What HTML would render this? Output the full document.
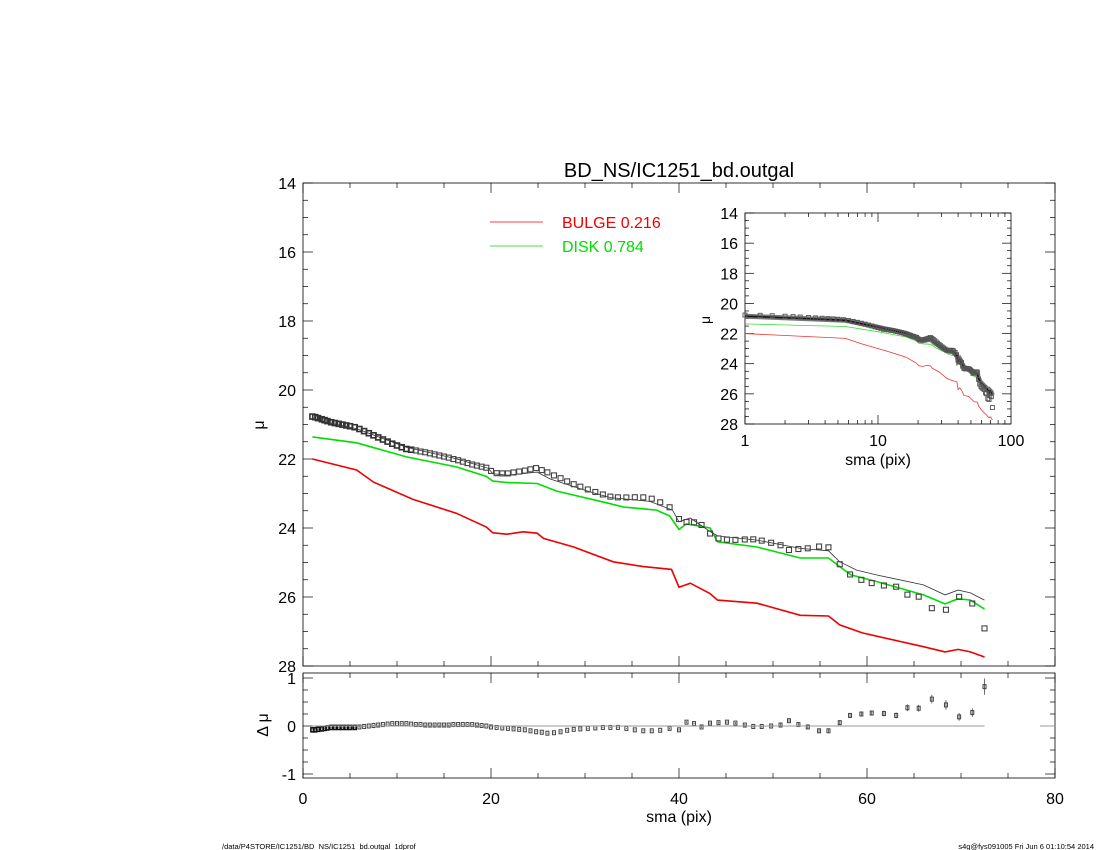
<!DOCTYPE html>
<html><head><meta charset="utf-8">
<style>
html,body{margin:0;padding:0;background:#fff;}
svg{display:block;font-family:"Liberation Sans",sans-serif;}
</style></head>
<body>
<svg id="chart" width="1100" height="850" viewBox="0 0 1100 850" xmlns="http://www.w3.org/2000/svg">
<rect width="1100" height="850" fill="#fff"/>
<text x="679" y="177" font-size="20" text-anchor="middle">BD_NS/IC1251_bd.outgal</text>
<g id="main"></g>
<g id="resid"></g>
<g id="inset"></g>
<g>
<line x1="490" y1="222" x2="543" y2="222" stroke="#f00" stroke-width="0.8"/>
<text x="562" y="228" font-size="16" fill="#e00">BULGE  0.216</text>
<line x1="490" y1="246" x2="543" y2="246" stroke="#0d0" stroke-width="0.8"/>
<text x="562" y="252" font-size="16" fill="#0d0">DISK  0.784</text>
</g>
<text x="222" y="849" font-size="7.5">/data/P4STORE/IC1251/BD_NS/IC1251_bd.outgal_1dprof</text>
<text x="1094" y="849" font-size="7.5" text-anchor="end">s4g@fys091005  Fri Jun  6 01:10:54 2014</text>
</svg>
<script>
// ---- data ----
const bulgeX = [1,5.7,7.5,11.7,16.3,19.5,20.2,21.7,23.4,24.9,25.6,28.8,33,36.2,39.2,40,41.2,43.3,44.1,48.3,52.9,55.9,57.1,59.5,66,68.3,69.7,71,72.5];
const bulgeMu = [22.0,22.32,22.67,23.17,23.57,23.97,24.14,24.18,24.11,24.15,24.3,24.55,24.98,25.12,25.2,25.72,25.6,25.9,26.09,26.18,26.53,26.55,26.81,27.04,27.44,27.59,27.52,27.59,27.74];
const diskX = [1,5.7,11,16.3,19.5,20.2,21.7,24.9,27,32.3,34.1,37.6,39,40,40.8,43.3,44.1,48.3,52.9,55.9,57.1,58.3,61,66,68.3,69.7,71,72.5];
const diskMu = [21.36,21.53,21.94,22.23,22.5,22.64,22.68,22.71,22.93,23.27,23.39,23.48,23.65,24.04,23.88,24.0,24.4,24.55,24.87,24.87,25.12,25.36,25.55,25.94,26.2,26.05,26.09,26.35];
const totalX = [1,5.7,11,16.3,19.7,20.2,21.7,24.9,26.3,30.5,32.7,36.9,39.3,40,41.2,43.3,44.1,48.3,52.9,55.9,57.1,58.9,61,66,68.3,69.7,71,72.5];
const totalMu = [20.85,21.12,21.66,21.99,22.27,22.43,22.47,22.38,22.58,22.95,23.12,23.23,23.48,23.82,23.71,24.1,24.23,24.35,24.59,24.66,24.98,25.22,25.36,25.65,25.94,25.8,25.88,26.09];
const pointX = [1,1.3,1.6,2,2.3,2.6,3,3.4,3.8,4.2,4.6,5,5.5,6,6.5,7,7.5,8,8.5,9,9.5,10,10.5,11,11.5,12,12.5,13,13.5,14,14.5,15,15.5,16,16.5,17,17.5,18,18.5,19,19.5,20,20.6,21.2,21.8,22.4,23,23.6,24.2,24.8,25.4,26,26.7,27.4,28.1,28.8,29.5,30.3,31.1,31.9,32.7,33.5,34.4,35.3,36.2,37.1,38,39,40,40.8,41.6,42.4,43.3,44.2,45.1,46,47,47.9,48.8,49.8,50.8,51.7,52.7,53.7,54.9,55.9,57.1,58.2,59.4,60.5,61.8,63.1,64.3,65.5,66.9,68.4,69.8,71.2,72.5];
const resid = [-0.08,-0.08,-0.07,-0.06,-0.05,-0.04,-0.03,-0.03,-0.03,-0.03,-0.03,-0.03,-0.03,-0.02,-0.01,0.0,0.01,0.02,0.03,0.04,0.05,0.05,0.05,0.05,0.04,0.03,0.03,0.02,0.02,0.02,0.02,0.02,0.02,0.03,0.03,0.03,0.03,0.03,0.02,0.01,0.0,-0.02,-0.03,-0.04,-0.05,-0.06,-0.07,-0.08,-0.1,-0.12,-0.13,-0.15,-0.14,-0.12,-0.09,-0.07,-0.06,-0.05,-0.04,-0.03,-0.03,-0.03,-0.05,-0.08,-0.1,-0.1,-0.09,-0.05,-0.08,0.08,0.05,-0.02,0.06,0.07,0.08,0.06,0.02,-0.01,-0.01,0.0,0.02,0.11,0.03,-0.02,-0.1,-0.1,0.07,0.22,0.25,0.27,0.26,0.22,0.38,0.37,0.56,0.44,0.19,0.28,0.82];
const residErr = [0.01,0.01,0.01,0.01,0.01,0.01,0.01,0.01,0.01,0.01,0.01,0.01,0.01,0.01,0.01,0.01,0.01,0.01,0.01,0.01,0.01,0.01,0.01,0.01,0.01,0.01,0.01,0.01,0.01,0.01,0.01,0.01,0.01,0.01,0.01,0.01,0.01,0.01,0.01,0.01,0.01,0.01,0.01,0.01,0.01,0.01,0.01,0.01,0.01,0.01,0.01,0.01,0.01,0.01,0.01,0.01,0.01,0.01,0.01,0.01,0.01,0.01,0.01,0.01,0.01,0.01,0.01,0.02,0.02,0.02,0.02,0.02,0.02,0.02,0.02,0.02,0.02,0.02,0.02,0.02,0.03,0.03,0.03,0.03,0.03,0.03,0.04,0.05,0.05,0.05,0.06,0.06,0.07,0.07,0.09,0.1,0.08,0.09,0.17];
const xTicks = ["0","20","40","60","80"];
const muTicks = ["14","16","18","20","22","24","26","28"];
const residTicks = ["-1","0","1"];
const insetXTicks = ["1","10","100"];

// ---- helpers ----
const NS = "http://www.w3.org/2000/svg";
function mk(parent, tag, attrs) {
  const el = document.createElementNS(NS, tag);
  for (const k in attrs) el.setAttribute(k, attrs[k]);
  parent.appendChild(el);
  return el;
}
function interp(xs, ys, x) {
  if (x <= xs[0]) return ys[0];
  for (let i = 1; i < xs.length; i++) if (x <= xs[i]) {
    const t = (x - xs[i-1]) / (xs[i] - xs[i-1]);
    return ys[i-1] + t * (ys[i] - ys[i-1]);
  }
  return ys[ys.length - 1];
}
const L = 303, R = 1055, T = 183, B = 666;
const sx = v => L + (v / 80) * (R - L);
const sy = v => T + (v - 14) / 14 * (B - T);
const RT = 673, RB = 778;
const ry = v => 726 - v * 48;
const IL = 745, IR = 1011, IT = 213, IB = 424;
const ix = v => IL + Math.log10(v) / 2 * (IR - IL);
const iy = v => IT + (v - 14) / 14 * (IB - IT);

const main = document.getElementById('main');
const rp = document.getElementById('resid');
const inset = document.getElementById('inset');

function frame(g, l, t, r, b, name) {
  const f = mk(g, 'rect', {x: l, y: t, width: r - l, height: b - t, fill: 'none', stroke: '#000', 'stroke-width': 0.8});
  
  
}
frame(main, L, T, R, B, 'main-plot-frame');
frame(rp, L, RT, R, RB, 'residual-plot-frame');
frame(inset, IL, IT, IR, IB, 'inset-plot-frame');

function tick(g, x1, y1, x2, y2) {
  const t = mk(g, 'line', {x1, y1, x2, y2, stroke: '#000', 'stroke-width': 0.7});
  
  
}
function label(g, x, y, txt, size, anchor, name) {
  const t = mk(g, 'text', {x, y, 'font-size': size, 'text-anchor': anchor});
  t.textContent = txt;
  
  
  return t;
}
for (let v = 0; v <= 80; v += 5) {
  const major = v % 20 === 0, len = major ? 10 : 5, X = sx(v);
  tick(main, X, B, X, B - len); tick(main, X, T, X, T + len);
  tick(rp, X, RB, X, RB - len); tick(rp, X, RT, X, RT + len);
}
xTicks.forEach(s => label(rp, sx(+s), 804, s, 16, 'middle', 'x-tick-label'));
label(rp, sx(40), 822, 'sma (pix)', 16, 'middle', 'x-axis-title');
for (let v = 14; v <= 28.001; v += 0.5) {
  const major = Math.abs(v % 2) < 1e-6, len = major ? 10 : 5, Y = sy(v);
  tick(main, L, Y, L + len, Y); tick(main, R, Y, R - len, Y);
}
muTicks.forEach(s => label(main, 296, sy(+s) + 6, s, 16, 'end', 'y-tick-label'));
const muT = label(main, 0, 0, 'μ', 16, 'middle', 'y-axis-title');
muT.setAttribute('transform', 'translate(264,425) rotate(-90)');
for (let v = -1; v <= 1.001; v += 0.25) {
  const major = Math.abs(v - Math.round(v)) < 1e-6, len = major ? 10 : 5, Y = ry(v);
  tick(rp, L, Y, L + len, Y); tick(rp, R, Y, R - len, Y);
}
residTicks.forEach(s => label(rp, 296, ry(+s) + 6, s, 16, 'end', 'residual-tick-label'));
const dT = label(rp, 0, 0, 'Δ μ', 16, 'middle', 'residual-axis-title');
dT.setAttribute('transform', 'translate(268,725) rotate(-90)');
for (let d = 0; d < 2; d++) for (let m = 1; m <= 9; m++) {
  const v = m * Math.pow(10, d), X = ix(v), len = m === 1 ? 9 : 4;
  tick(inset, X, IB, X, IB - len); tick(inset, X, IT, X, IT + len);
}
for (let v = 14; v <= 28.001; v += 0.5) {
  const major = Math.abs(v % 2) < 1e-6, len = major ? 9 : 4, Y = iy(v);
  tick(inset, IL, Y, IL + len, Y); tick(inset, IR, Y, IR - len, Y);
}
muTicks.forEach(s => label(inset, 738, iy(+s) + 6, s, 16, 'end', 'inset-y-tick-label'));
insetXTicks.forEach(s => label(inset, ix(+s), 446, s, 16, 'middle', 'inset-x-tick-label'));
label(inset, ix(10), 465, 'sma (pix)', 16, 'middle', 'inset-x-axis-title');
const iT = label(inset, 0, 0, 'μ', 14, 'middle', 'inset-y-axis-title');
iT.setAttribute('transform', 'translate(710,320) rotate(-90)');

function curve(g, xs, ys, fx, fy, color, w, name) {
  const d = xs.map((x, i) => (i ? 'L' : 'M') + fx(x).toFixed(1) + ',' + fy(ys[i]).toFixed(1)).join('');
  const p = mk(g, 'path', {d, fill: 'none', stroke: color, 'stroke-width': w});
  
  
}
curve(main, bulgeX, bulgeMu, sx, sy, '#e00', 1.6, 'bulge-curve');
curve(main, diskX, diskMu, sx, sy, '#0d0', 1.6, 'disk-curve');
curve(main, totalX, totalMu, sx, sy, '#333', 0.8, 'total-model-curve');
curve(inset, bulgeX, bulgeMu, ix, iy, '#e33', 0.8, 'inset-bulge-curve');
curve(inset, diskX, diskMu, ix, iy, '#3d3', 0.8, 'inset-disk-curve');
curve(inset, totalX, totalMu, ix, iy, '#777', 5, 'inset-total-band');
curve(inset, totalX, totalMu, ix, iy, '#111', 1.5, 'inset-total-curve');

pointX.forEach((x, i) => {
  const mu = interp(totalX, totalMu, x) + resid[i];
  const early = x < 12;
  const s = mk(main, 'rect', {x: sx(x) - 2.5, y: sy(mu) - 2.5, width: 5, height: 5, fill: 'none', stroke: early ? '#333' : '#444', 'stroke-width': early ? 1.6 : 1.1});
  
  
  const s2 = mk(inset, 'rect', {x: ix(x) - 2, y: iy(mu) - 2, width: 4, height: 4, fill: 'none', stroke: '#555', 'stroke-width': 0.9});
  
  
  const e = mk(rp, 'line', {x1: sx(x), x2: sx(x), y1: ry(resid[i] - residErr[i]), y2: ry(resid[i] + residErr[i]), stroke: '#444', 'stroke-width': 0.8});
  
  
  const r = mk(rp, 'rect', {x: sx(x) - 1.5, y: ry(resid[i]) - 2, width: 3, height: 4, fill: 'none', stroke: x < 6 ? '#111' : '#444', 'stroke-width': x < 6 ? 1.6 : 1});
  
  
});
const z = mk(rp, 'line', {x1: sx(pointX[0]), x2: sx(pointX[pointX.length - 1]), y1: ry(0), y2: ry(0), stroke: '#999', 'stroke-width': 1});


const z2 = mk(rp, 'line', {x1: 1040, x2: R, y1: ry(0), y2: ry(0), stroke: '#999', 'stroke-width': 1});


</script>
</body></html>
